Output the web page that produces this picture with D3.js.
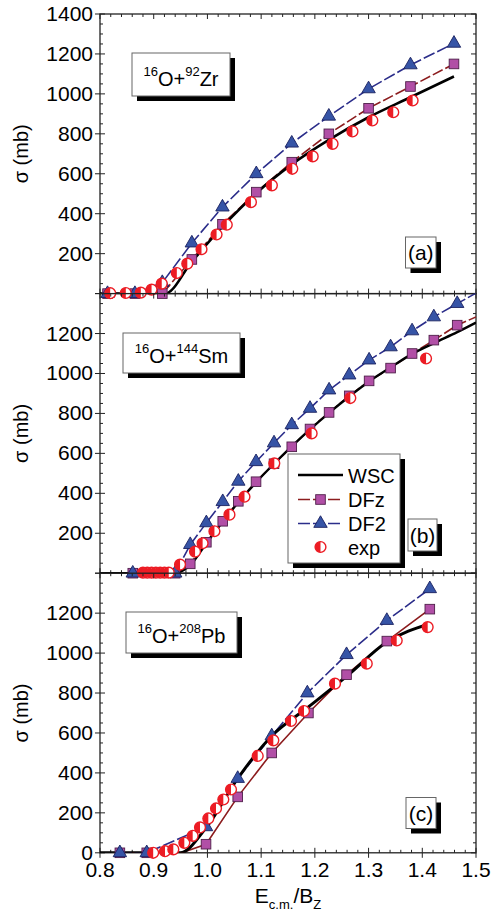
<!DOCTYPE html>
<html>
<head>
<meta charset="utf-8">
<script src="https://cdn.jsdelivr.net/npm/d3@7"></script>
<style>
  body { margin: 0; background: #fff; }
  text { font-family: "Liberation Sans", Arial, sans-serif; fill: #000; }
</style>
</head>
<body>
<div id="chart"></div>
<script>

// ---- data ----
var xTicks = [0.8, 0.9, 1.0, 1.1, 1.2, 1.3, 1.4, 1.5];
var yLabelsA = [200, 400, 600, 800, 1000, 1200, 1400];
var yLabelsB = [200, 400, 600, 800, 1000, 1200];
var yLabelsC = [0, 200, 400, 600, 800, 1000, 1200];
var yMajor = [0, 200, 400, 600, 800, 1000, 1200, 1400];

// 16O+92Zr
var zrWSC = [[0.80,0],[0.921,0],[0.971,160],[1.028,335],[1.091,503],[1.157,647],[1.226,770],[1.300,883],[1.378,983],[1.459,1087]];
var zrDFz = [[0.814,0],[0.865,0],[0.916,0],[0.971,171],[1.028,347],[1.091,508],[1.157,658],[1.226,800],[1.300,928],[1.378,1037],[1.459,1150]];
var zrDF2 = [[0.814,0],[0.865,0],[0.916,55],[0.971,253],[1.028,433],[1.091,600],[1.157,753],[1.226,888],[1.300,1025],[1.378,1145],[1.459,1253]];
var zrExp = [[0.819,2],[0.848,3],[0.876,5],[0.896,20],[0.915,50],[0.943,103],[0.9625,150],[0.989,222],[1.017,296],[1.036,345],[1.081,458],[1.120,542],[1.158,625],[1.196,687],[1.233,750],[1.270,812],[1.307,867],[1.346,908],[1.382,967]];

// 16O+144Sm
var smWSC = [[0.80,0],[0.937,0],[0.968,40],[0.998,150],[1.0285,258],[1.0575,355],[1.0905,455],[1.124,548],[1.157,635],[1.191,720],[1.2265,803],[1.264,885],[1.301,960],[1.341,1030],[1.381,1098],[1.4215,1152],[1.465,1207],[1.50,1255]];
var smDFz = [[0.861,0],[0.940,0],[0.968,47],[0.998,155],[1.0285,260],[1.0575,360],[1.0905,458],[1.124,548],[1.157,633],[1.191,722],[1.2265,805],[1.264,888],[1.301,963],[1.341,1027],[1.381,1100],[1.4215,1167],[1.465,1242]];
var smDFzTail = [[1.50,1283]];
var smDF2 = [[0.861,0],[0.940,0],[0.968,143],[0.998,252],[1.0285,358],[1.0575,460],[1.0905,558],[1.124,652],[1.157,743],[1.191,825],[1.2265,917],[1.264,992],[1.301,1067],[1.341,1133],[1.381,1213],[1.4215,1283],[1.465,1350]];
var smDF2Tail = [[1.50,1402]];
var smExp = [[0.880,3],[0.888,3],[0.896,3],[0.904,3],[0.912,3],[0.920,3],[0.928,3],[0.949,43],[0.977,108],[0.991,150],[1.013,210],[1.041,293],[1.069,383],[1.1245,550],[1.194,700],[1.266,877],[1.407,1075]];

// 16O+208Pb
var pbWSC = [[0.80,0],[0.949,0],[0.9974,125],[1.0564,372],[1.1197,585],[1.188,730],[1.259,883],[1.334,1055],[1.414,1147]];
var pbDFz = [[0.837,0],[0.887,0],[0.9974,43],[1.0564,280],[1.1197,500],[1.188,700],[1.259,892],[1.334,1060],[1.414,1220]];
var pbDFzKnots = [[0.952,0]];
var pbDF2 = [[0.837,0],[0.887,0],[0.9974,130],[1.0564,372],[1.1197,585],[1.186,800],[1.259,992],[1.334,1163],[1.414,1322]];
var pbExp = [[0.899,0],[0.921,8],[0.9365,17],[0.957,50],[0.9726,85],[0.9862,127],[1.0017,172],[1.016,222],[1.0296,267],[1.0439,317],[1.0936,485],[1.1227,563],[1.1556,660],[1.1798,710],[1.2375,847],[1.2966,947],[1.3524,1063],[1.410,1130]];

var panels = [
  {id: "a", nucl: ["16","O+","92","Zr"], labels: yLabelsA, wsc: zrWSC, dfz: zrDFz, dfzLine: zrDFz, df2: zrDF2, df2Line: zrDF2, exp: zrExp, wscW: 2.6, dfzDash: "11,3"},
  {id: "b", nucl: ["16","O+","144","Sm"], labels: yLabelsB, wsc: smWSC, dfz: smDFz, dfzLine: smDFz.concat(smDFzTail), df2: smDF2, df2Line: smDF2.concat(smDF2Tail), exp: smExp, wscW: 2.4, dfzDash: "11,3"},
  {id: "c", nucl: ["16","O+","208","Pb"], labels: yLabelsC, wsc: pbWSC, dfz: pbDFz, dfzLine: pbDFz.concat(pbDFzKnots).sort(function(a,b){return a[0]-b[0];}), df2: pbDF2, df2Line: pbDF2, exp: pbExp, wscW: 3, dfzDash: null}
];

// layout
var W = 491, Hsvg = 914;
var left = 100, right = 476;
var panelH = 279.6;
var tops = [14, 293.6, 573.2];
var boxes = [
  {nx: 132, ny: 53, nw: 98, nh: 43, lx: 405.5, ly: 237, lw: 30.5, lh: 31},
  {nx: 123, ny: 333, nw: 117, nh: 40, lx: 408, ly: 519, lw: 29, lh: 32},
  {nx: 126, ny: 612, nw: 111, nh: 41, lx: 406, ly: 797.5, lw: 30, lh: 31}
];

var colWSC = "#000", colDFz = "#8c1c1e", colDF2 = "#2b2d8a";
var sqFill = "#b14fa6", sqStroke = "#4f1f4a";
var triFill = "#3654a6", triStroke = "#1b2160";
var expCol = "#ec1c24";

var svg = d3.select("#chart").append("svg")
  .attr("width", W).attr("height", Hsvg);

var x = d3.scaleLinear().domain([0.8, 1.5]).range([left, right]);
var xMinor = d3.range(0.8, 1.5001, 0.02);
var yMinor = d3.range(0, 1401, 50);

function shadowBox(g, bx, by, bw, bh) {
  g.append("rect").attr("x", bx + 5).attr("y", by + 5).attr("width", bw).attr("height", bh).attr("fill", "#000");
  g.append("rect").attr("x", bx).attr("y", by).attr("width", bw).attr("height", bh)
    .attr("fill", "#fff").attr("stroke", "#666").attr("stroke-width", 1);
}

function drawSquare(g, px, py) {
  g.append("rect").attr("x", px - 4.8).attr("y", py - 4.8).attr("width", 9.6).attr("height", 9.6)
    .attr("fill", sqFill).attr("stroke", sqStroke).attr("stroke-width", 0.9);
}
function drawTri(g, px, py) {
  g.append("path").attr("transform", "translate(" + px + "," + py + ")")
    .attr("d", d3.symbol(d3.symbolTriangle, 78)())
    .attr("fill", triFill).attr("stroke", triStroke).attr("stroke-width", 0.9);
}
function drawExp(g, px, py) {
  var r = 5.4;
  var e = g.append("g").attr("transform", "translate(" + px + "," + py + ")");
  e.append("circle").attr("r", r).attr("fill", "#fff").attr("stroke", expCol).attr("stroke-width", 1.4);
  e.append("path").attr("d", "M0," + (-r) + " A" + r + "," + r + " 0 0 0 0," + r + " Z").attr("fill", expCol);
}

panels.forEach(function(p, i) {
  var top = tops[i], bottom = top + panelH;
  var y = d3.scaleLinear().domain([0, 1400]).range([bottom, top]);
  var g = svg.append("g").attr("class", "panel-" + p.id);

  // clip for the lines only
  g.append("clipPath").attr("id", "clip" + p.id)
    .append("rect").attr("x", left).attr("y", top).attr("width", right - left).attr("height", panelH);

  // ticks, pointing inside on all four sides
  var ax = g.append("g").attr("stroke", "#222").attr("stroke-width", 1);
  yMinor.forEach(function(v) {
    var len = (v % 200 === 0) ? 5 : 3;
    ax.append("line").attr("x1", left).attr("x2", left + len).attr("y1", y(v)).attr("y2", y(v));
    ax.append("line").attr("x1", right).attr("x2", right - len).attr("y1", y(v)).attr("y2", y(v));
  });
  yMajor.forEach(function(v) {
    ax.append("line").attr("x1", left - 5).attr("x2", left).attr("y1", y(v)).attr("y2", y(v));
  });
  xMinor.forEach(function(v) {
    var major = Math.abs(Math.round(v * 10) - v * 10) < 1e-6;
    var len = major ? 5 : 3;
    ax.append("line").attr("x1", x(v)).attr("x2", x(v)).attr("y1", top).attr("y2", top + len);
    ax.append("line").attr("x1", x(v)).attr("x2", x(v)).attr("y1", bottom).attr("y2", bottom - len);
    if (major && i === 2) {
      ax.append("line").attr("x1", x(v)).attr("x2", x(v)).attr("y1", bottom).attr("y2", bottom + 5);
    }
  });

  // frame
  g.append("rect").attr("x", left).attr("y", top).attr("width", right - left).attr("height", panelH)
    .attr("fill", "none").attr("stroke", "#222").attr("stroke-width", 1.3);

  // y tick labels
  g.selectAll(".ylab").data(p.labels).enter().append("text")
    .attr("x", left - 7).attr("y", function(d) { return y(d) + 7; })
    .attr("text-anchor", "end").style("font-size", "21px")
    .text(function(d) { return d; });

  // y title
  g.append("text").attr("transform", "translate(28," + (top + panelH * 0.5) + ") rotate(-90)")
    .attr("text-anchor", "middle").style("font-size", "20px").text("σ (mb)");

  // label boxes
  var b = boxes[i];
  shadowBox(g, b.nx, b.ny, b.nw, b.nh);
  var t = g.append("text").attr("x", b.nx + b.nw / 2).attr("y", b.ny + b.nh - 10)
    .attr("text-anchor", "middle").style("font-size", "20px");
  t.append("tspan").attr("dy", -10).style("font-size", "13px").text(p.nucl[0]);
  t.append("tspan").attr("dy", 10).text(p.nucl[1]);
  t.append("tspan").attr("dy", -10).style("font-size", "13px").text(p.nucl[2]);
  t.append("tspan").attr("dy", 10).text(p.nucl[3]);
  shadowBox(g, b.lx, b.ly, b.lw, b.lh);
  g.append("text").attr("x", b.lx + b.lw / 2).attr("y", b.ly + b.lh / 2 + 7.5)
    .attr("text-anchor", "middle").style("font-size", "21px").text("(" + p.id + ")");

  // curves
  var line = d3.line().x(function(d) { return x(d[0]); }).y(function(d) { return y(d[1]); });
  var curves = g.append("g").attr("clip-path", "url(#clip" + p.id + ")").attr("fill", "none");
  curves.append("path").attr("d", line(p.dfzLine)).attr("stroke", colDFz).attr("stroke-width", 1.6)
    .attr("stroke-dasharray", p.dfzDash);
  curves.append("path").attr("d", line(p.df2Line)).attr("stroke", colDF2).attr("stroke-width", 1.6)
    .attr("stroke-dasharray", "12,3");
  curves.append("path").attr("d", line.curve(d3.curveMonotoneX)(p.wsc)).attr("stroke", colWSC)
    .attr("stroke-width", p.wscW);

  // markers (not clipped)
  var mk = g.append("g");
  p.dfz.forEach(function(d) { drawSquare(mk, x(d[0]), y(d[1])); });
  p.df2.forEach(function(d) { drawTri(mk, x(d[0]), y(d[1])); });
  p.exp.forEach(function(d) { drawExp(mk, x(d[0]), y(d[1])); });

  // legend lives in panel (b)
  if (p.id === "b") {
    var lg = g.append("g");
    shadowBox(lg, 288, 454, 112, 109);
    var rows = [475, 499.5, 523.5, 547];
    var names = ["WSC", "DFz", "DF2", "exp"];
    lg.append("line").attr("x1", 298).attr("x2", 343).attr("y1", rows[0]).attr("y2", rows[0])
      .attr("stroke", colWSC).attr("stroke-width", 2.4);
    lg.append("line").attr("x1", 298).attr("x2", 343).attr("y1", rows[1]).attr("y2", rows[1])
      .attr("stroke", colDFz).attr("stroke-width", 1.6).attr("stroke-dasharray", "12,3");
    drawSquare(lg, 320.5, rows[1]);
    lg.append("line").attr("x1", 298).attr("x2", 343).attr("y1", rows[2]).attr("y2", rows[2])
      .attr("stroke", colDF2).attr("stroke-width", 1.6).attr("stroke-dasharray", "12,3");
    drawTri(lg, 320.5, rows[2]);
    drawExp(lg, 320.5, rows[3]);
    names.forEach(function(n, k) {
      lg.append("text").attr("x", 348).attr("y", rows[k] + 7.5).style("font-size", "20px").text(n);
    });
  }

  // x tick labels at the bottom only
  if (i === 2) {
    g.selectAll(".xlab").data(xTicks).enter().append("text")
      .attr("x", function(d) { return x(d); }).attr("y", bottom + 24)
      .attr("text-anchor", "middle").style("font-size", "21px")
      .text(function(d) { return d3.format(".1f")(d); });
    var xt = g.append("text").attr("x", 288).attr("y", 903).attr("text-anchor", "middle").style("font-size", "21px");
    xt.append("tspan").text("E");
    xt.append("tspan").attr("dy", 6).style("font-size", "13px").text("c.m.");
    xt.append("tspan").attr("dy", -6).text("/B");
    xt.append("tspan").attr("dy", 6).style("font-size", "13px").text("Z");
  }
});

</script>
</body>
</html>
